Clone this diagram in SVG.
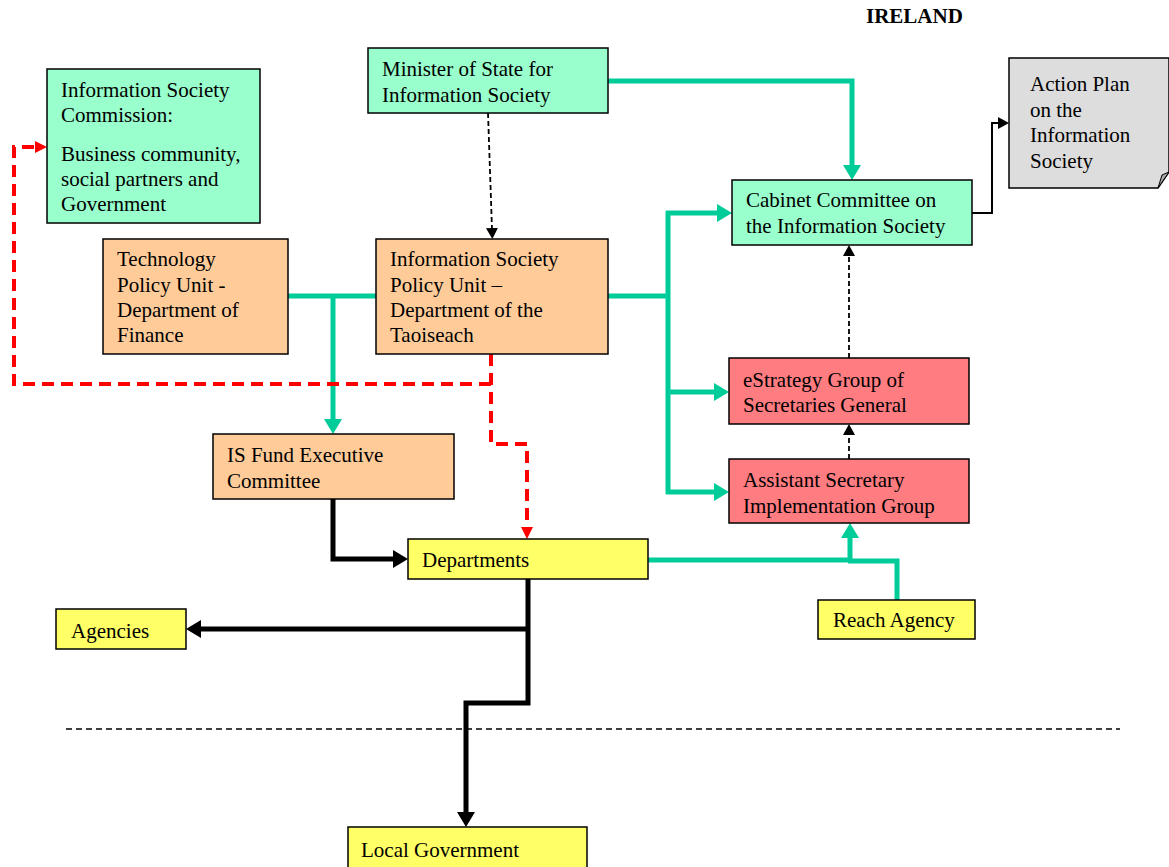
<svg xmlns="http://www.w3.org/2000/svg" width="1169" height="867" viewBox="0 0 1169 867">
<style>
text{font-family:"Liberation Serif","Times New Roman",serif;font-size:21px;fill:#000}
.box{stroke:#000;stroke-width:1.5}
.g{fill:#99FFCC}.o{fill:#FFCC99}.r{fill:#FF7C80}.y{fill:#FFFF66}.n{fill:#DDDDDD}
.cg{fill:none;stroke:#00CC99;stroke-width:5}
.ck{fill:none;stroke:#000;stroke-width:5}
.ct{fill:none;stroke:#000;stroke-width:2}
.cd{fill:none;stroke:#000;stroke-width:1.8;stroke-dasharray:5 3}
.cr{fill:none;stroke:#FF0000;stroke-width:4;stroke-dasharray:12 7}
</style>
<defs>
<marker id="ag" markerUnits="userSpaceOnUse" markerWidth="18" markerHeight="18" refX="2" refY="9" orient="auto"><path d="M0,0 L15,9 L0,18 z" fill="#00CC99"/></marker>
<marker id="ak" markerUnits="userSpaceOnUse" markerWidth="18" markerHeight="18" refX="2" refY="9" orient="auto"><path d="M0,0 L15,9 L0,18 z" fill="#000"/></marker>
<marker id="at" markerUnits="userSpaceOnUse" markerWidth="12" markerHeight="12" refX="1" refY="6" orient="auto"><path d="M0,0 L11,6 L0,12 z" fill="#000"/></marker>
<marker id="ar" markerUnits="userSpaceOnUse" markerWidth="14" markerHeight="14" refX="2" refY="6" orient="auto"><path d="M0,0 L12,6 L0,12 z" fill="#FF0000"/></marker>
</defs>

<text x="866" y="23" style="font-weight:bold;font-size:21px">IRELAND</text>

<g id="connectors">
<path class="cg" d="M608,81 H852 V167" marker-end="url(#ag)"/>
<path class="cg" d="M608,296 H668"/>
<path class="cg" d="M668,211 V494"/>
<path class="cg" d="M666,213 H719" marker-end="url(#ag)"/>
<path class="cg" d="M668,392 H716" marker-end="url(#ag)"/>
<path class="cg" d="M666,492 H716" marker-end="url(#ag)"/>
<path class="cg" d="M288,296 H376"/>
<path class="cg" d="M333,296 V421" marker-end="url(#ag)"/>
<path class="cg" d="M648,560 H850 V536" marker-end="url(#ag)"/>
<path class="cg" d="M897,600 V561 H848"/>
<path class="ck" d="M333,499 V559 H395" marker-end="url(#ak)"/>
<path class="ck" d="M528,579 V703 H466 V814" marker-end="url(#ak)"/>
<path class="ck" d="M530,629 H199" marker-end="url(#ak)"/>
<path class="ct" d="M972,213 H992 V123 H999" marker-end="url(#at)"/>
<path class="cd" d="M488,113 L492,229" marker-end="url(#at)"/>
<path class="cd" d="M849,358 V255" marker-end="url(#at)"/>
<path class="cd" d="M849,459 V434" marker-end="url(#at)"/>
<path class="cr" d="M491,354 V444 H527 V529" marker-end="url(#ar)"/>
<path class="cr" d="M491,384 H14 V147 H37" marker-end="url(#ar)"/>
<path d="M66,729 H1120" fill="none" stroke="#000" stroke-width="1.5" stroke-dasharray="6 4"/>
</g>

<g id="isc"><rect class="box g" x="47" y="69" width="213" height="154"/>
<text x="61" y="97">Information Society</text><text x="61" y="122">Commission:</text>
<text x="61" y="161">Business community,</text><text x="61" y="186">social partners and</text><text x="61" y="211">Government</text></g>

<g id="minister"><rect class="box g" x="368" y="48" width="240" height="65"/>
<text x="382" y="76">Minister of State for</text><text x="382" y="102">Information Society</text></g>

<g id="cabinet"><rect class="box g" x="732" y="180" width="240" height="65"/>
<text x="746" y="207">Cabinet Committee on</text><text x="746" y="233">the Information Society</text></g>

<g id="actionplan"><path class="box n" d="M1009,58 H1169 V172 L1158,188 H1009 Z"/>
<path d="M1158,188 L1162,175 L1169,172 Z" fill="#AAAAAA" stroke="#000" stroke-width="1"/>
<text x="1030" y="91">Action Plan</text><text x="1030" y="117">on the</text><text x="1030" y="142">Information</text><text x="1030" y="168">Society</text></g>

<g id="tpu"><rect class="box o" x="103" y="239" width="185" height="115"/>
<text x="117" y="266">Technology</text><text x="117" y="292">Policy Unit -</text><text x="117" y="317">Department of</text><text x="117" y="342">Finance</text></g>

<g id="ispu"><rect class="box o" x="376" y="239" width="232" height="115"/>
<text x="390" y="266">Information Society</text><text x="390" y="292">Policy Unit –</text><text x="390" y="317">Department of the</text><text x="390" y="342">Taoiseach</text></g>

<g id="estrategy"><rect class="box r" x="729" y="358" width="240" height="66"/>
<text x="743" y="387">eStrategy Group of</text><text x="743" y="412">Secretaries General</text></g>

<g id="asst"><rect class="box r" x="729" y="459" width="240" height="64"/>
<text x="743" y="487">Assistant Secretary</text><text x="743" y="513">Implementation Group</text></g>

<g id="isfund"><rect class="box o" x="213" y="434" width="241" height="65"/>
<text x="227" y="462">IS Fund Executive</text><text x="227" y="488">Committee</text></g>

<g id="departments"><rect class="box y" x="408" y="539" width="240" height="40"/>
<text x="422" y="567">Departments</text></g>

<g id="agencies"><rect class="box y" x="56" y="609" width="130" height="40"/>
<text x="71" y="638">Agencies</text></g>

<g id="reach"><rect class="box y" x="818" y="600" width="157" height="39"/>
<text x="833" y="627">Reach Agency</text></g>

<g id="localgov"><rect class="box y" x="348" y="827" width="239" height="45"/>
<text x="361" y="857">Local Government</text></g>
</svg>
